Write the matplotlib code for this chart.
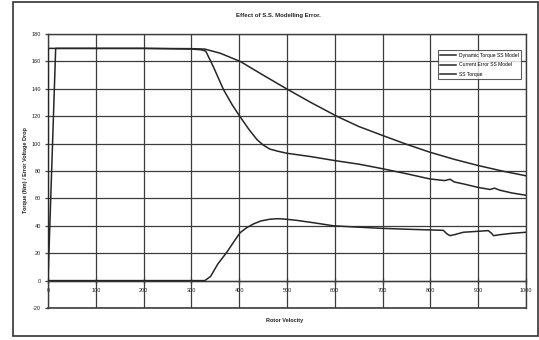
import matplotlib
matplotlib.use("Agg")
import matplotlib.pyplot as plt
from matplotlib.patches import Rectangle

plt.rcParams['font.family'] = ['Liberation Sans', 'DejaVu Sans']

title = "Effect of S.S. Modelling Error."
xlabel = "Rotor Velocity"
ylabel = "Torque (Nm) / Error Voltage Drop"
series_names = ["Dynamic Torque SS Model", "Current Error SS Model", "SS Torque"]

x_ticks = [0, 100, 200, 300, 400, 500, 600, 700, 800, 900, 1000]
y_ticks = [-20, 0, 20, 40, 60, 80, 100, 120, 140, 160, 180]

# Dynamic Torque SS Model (steep drop)
dyn_x = [0, 16, 100, 200, 300, 320, 330, 346, 367, 385, 402, 420, 437, 450, 464, 480, 499,
         550, 600, 650, 695, 750, 799, 830, 841, 850, 870, 900, 925, 934, 945, 970, 1000]
dyn_y = [0, 169.5, 169.5, 169.5, 169, 168.5, 167.5, 156, 139.5, 128.5, 119.5, 110.5, 103, 99, 96, 94.5, 93,
         90.5, 87.6, 85, 82, 78, 74.2, 73, 74, 72, 70.5, 68, 66.5, 67.5, 66, 64, 62.3]

# Current Error SS Model (rises from zero)
err_x = [0, 100, 200, 300, 328, 340, 355, 374, 390, 402, 415, 430, 445, 464, 480, 492, 520,
         560, 597, 650, 695, 750, 799, 827, 835, 841, 850, 869, 900, 921, 928, 932, 945, 970, 1000]
err_y = [0, 0, 0, 0, 0, 3, 12, 20.7, 29, 35, 38.5, 41.4, 43.5, 44.8, 45.2, 45, 44,
         42, 40, 39, 38.2, 37.5, 37, 36.7, 34, 32.8, 33.5, 35.3, 36, 36.5, 34.5, 32.8, 33.5, 34.5, 35.3]

# SS Torque (gradual decline)
ss_x = [0, 0.5, 20, 100, 200, 300, 328, 360, 402, 450, 499, 550, 604, 650, 701, 750, 799,
        850, 900, 950, 1000]
ss_y = [0, 169.5, 169.5, 169.5, 169.5, 169.3, 169, 166, 160, 150, 140, 130, 120, 112.5, 105.8, 99.5, 93.7,
        88.5, 84, 80, 76.5]

fig = plt.figure(figsize=(5.39, 3.40), dpi=100)
ax = fig.add_axes([0.0891, 0.0941, 0.8868, 0.8059])

line_col = '#262626'
grid_col = '#3c3c3c'

ax.plot(dyn_x, dyn_y, color=line_col, lw=1.1, label=series_names[0], zorder=3)
ax.plot(err_x, err_y, color=line_col, lw=1.1, label=series_names[1], zorder=3)
ax.plot(ss_x, ss_y, color=line_col, lw=1.1, label=series_names[2], zorder=3)

ax.set_xlim(0, 1000)
ax.set_ylim(-20, 180)
ax.set_xticks(x_ticks)
ax.set_yticks(y_ticks)
ax.set_xticklabels([str(v) for v in x_ticks])
ax.set_yticklabels([str(v) for v in y_ticks])
ax.grid(True, color=grid_col, lw=0.9, zorder=1)
ax.set_axisbelow(True)

ax.spines['bottom'].set_position(('data', 0))
for s in ax.spines.values():
    s.set_color(grid_col)
    s.set_linewidth(1.0)
ax.axhline(-20, color=grid_col, lw=1.2, clip_on=False)

ax.tick_params(axis='x', direction='inout', length=4, width=0.9, pad=3, labelsize=4, colors=grid_col, labelcolor='#222')
ax.tick_params(axis='y', direction='out', length=2.5, width=0.9, pad=2.5, labelsize=4, colors=grid_col, labelcolor='#222')

fig.text(0.516, 0.955, title, ha='center', va='center', fontsize=4.3, fontweight='bold', color='#222')
fig.text(0.528, 0.056, xlabel, ha='center', va='center', fontsize=4.0, fontweight='bold', color='#222')
fig.text(0.047, 0.5, ylabel, ha='center', va='center', rotation=90, fontsize=4.0, fontweight='bold', color='#222')

leg = ax.legend(loc='upper right', bbox_to_anchor=(0.990, 0.94), fontsize=3.6, frameon=True,
                fancybox=False, edgecolor='#333', handlelength=3.2, handletextpad=0.5,
                borderpad=0.5, labelspacing=0.9, borderaxespad=0)
leg.get_frame().set_linewidth(0.8)

fig.patches.append(Rectangle((0.0232, 0.0118), 0.975, 0.982, transform=fig.transFigure,
                             fill=False, edgecolor='#333', lw=1.2))

fig.savefig('out.png', dpi=100, facecolor='white')
